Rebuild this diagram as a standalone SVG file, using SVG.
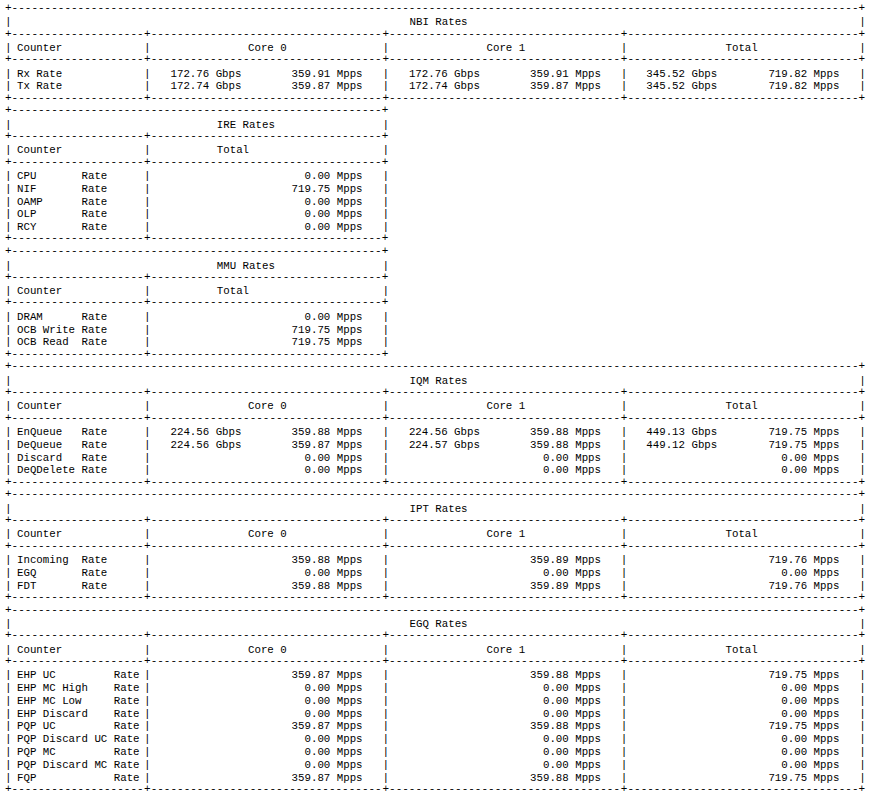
<svg xmlns="http://www.w3.org/2000/svg" width="874" height="801" viewBox="0 0 874 801">
<style>
text { font-family: "Liberation Mono", "DejaVu Sans Mono", monospace; font-size: 10.75px; fill: #000; white-space: pre; }
text.b { font-size: 11px; }
.r { text-anchor: end; }
</style>
<defs>
<text id="wtop" class="b"><tspan x="5">+--------------------</tspan><tspan x="144.06">------------------------------------</tspan><tspan x="382.45">------------------------------------</tspan><tspan x="620.85">------------------------------------+</tspan></text>
<text id="wsep" class="b"><tspan x="5">+--------------------</tspan><tspan x="144.06">+-----------------------------------</tspan><tspan x="382.45">+-----------------------------------</tspan><tspan x="620.85">+-----------------------------------+</tspan></text>
<text id="stop" class="b"><tspan x="5">+--------------------</tspan><tspan x="144.06">------------------------------------+</tspan></text>
<text id="ssep" class="b"><tspan x="5">+--------------------</tspan><tspan x="144.06">+-----------------------------------+</tspan></text>
<text id="wbar" class="b"><tspan x="5">|</tspan><tspan x="144.06">|</tspan><tspan x="382.45">|</tspan><tspan x="620.85">|</tspan><tspan x="859.24">|</tspan></text>
<text id="wtbar" class="b"><tspan x="5">|</tspan><tspan x="859.24">|</tspan></text>
<text id="sbar" class="b"><tspan x="5">|</tspan><tspan x="144.06">|</tspan><tspan x="382.45">|</tspan></text>
<text id="stbar" class="b"><tspan x="5">|</tspan><tspan x="382.45">|</tspan></text>
</defs>
<rect width="874" height="801" fill="#fff"/>

<g id="nbi-rates">
<use href="#wtop" y="11"/>
<use href="#wtbar" y="25.3"/>
<text x="409.5" y="25.3">NBI Rates</text>
<use href="#wsep" y="36.6"/>
<use href="#wbar" y="50.9"/>
<text y="50.9"><tspan x="17">Counter</tspan><tspan x="248">Core 0</tspan><tspan x="486.5">Core 1</tspan><tspan x="725.5">Total</tspan></text>
<use href="#wsep" y="62.2"/>
<use href="#wbar" y="76.5"/>
<text y="76.5"><tspan x="17">Rx Rate</tspan><tspan x="170.5">172.76 Gbps</tspan><tspan x="408.9">172.76 Gbps</tspan><tspan x="646.3">345.52 Gbps</tspan></text>
<text class="r" x="362.59" y="76.5">359.91 Mpps</text><text class="r" x="601" y="76.5">359.91 Mpps</text><text class="r" x="839.37" y="76.5">719.82 Mpps</text>
<use href="#wbar" y="89.3"/>
<text y="89.3"><tspan x="17">Tx Rate</tspan><tspan x="170.5">172.74 Gbps</tspan><tspan x="408.9">172.74 Gbps</tspan><tspan x="646.3">345.52 Gbps</tspan></text>
<text class="r" x="362.59" y="89.3">359.87 Mpps</text><text class="r" x="601" y="89.3">359.87 Mpps</text><text class="r" x="839.37" y="89.3">719.82 Mpps</text>
<use href="#wsep" y="100.6"/>
</g>

<g id="ire-rates">
<use href="#stop" y="113.4"/>
<use href="#stbar" y="127.7"/>
<text x="216.8" y="127.7">IRE Rates</text>
<use href="#ssep" y="139"/>
<use href="#sbar" y="153.3"/>
<text y="153.3"><tspan x="17">Counter</tspan><tspan x="216.8">Total</tspan></text>
<use href="#ssep" y="164.6"/>
<use href="#sbar" y="178.9"/>
<text y="178.9"><tspan x="17">CPU</tspan><tspan x="81.5">Rate</tspan></text><text class="r" x="362.59" y="178.9">0.00 Mpps</text>
<use href="#sbar" y="191.7"/>
<text y="191.7"><tspan x="17">NIF</tspan><tspan x="81.5">Rate</tspan></text><text class="r" x="362.59" y="191.7">719.75 Mpps</text>
<use href="#sbar" y="204.5"/>
<text y="204.5"><tspan x="17">OAMP</tspan><tspan x="81.5">Rate</tspan></text><text class="r" x="362.59" y="204.5">0.00 Mpps</text>
<use href="#sbar" y="217.3"/>
<text y="217.3"><tspan x="17">OLP</tspan><tspan x="81.5">Rate</tspan></text><text class="r" x="362.59" y="217.3">0.00 Mpps</text>
<use href="#sbar" y="230.1"/>
<text y="230.1"><tspan x="17">RCY</tspan><tspan x="81.5">Rate</tspan></text><text class="r" x="362.59" y="230.1">0.00 Mpps</text>
<use href="#ssep" y="241.4"/>
</g>

<g id="mmu-rates">
<use href="#stop" y="254.2"/>
<use href="#stbar" y="268.5"/>
<text x="216.8" y="268.5">MMU Rates</text>
<use href="#ssep" y="279.8"/>
<use href="#sbar" y="294.1"/>
<text y="294.1"><tspan x="17">Counter</tspan><tspan x="216.8">Total</tspan></text>
<use href="#ssep" y="305.4"/>
<use href="#sbar" y="319.7"/>
<text y="319.7"><tspan x="17">DRAM</tspan><tspan x="81.5">Rate</tspan></text><text class="r" x="362.59" y="319.7">0.00 Mpps</text>
<use href="#sbar" y="332.5"/>
<text y="332.5"><tspan x="17">OCB Write</tspan><tspan x="81.5">Rate</tspan></text><text class="r" x="362.59" y="332.5">719.75 Mpps</text>
<use href="#sbar" y="345.3"/>
<text y="345.3"><tspan x="17">OCB Read</tspan><tspan x="81.5">Rate</tspan></text><text class="r" x="362.59" y="345.3">719.75 Mpps</text>
<use href="#ssep" y="356.6"/>
</g>

<g id="iqm-rates">
<use href="#wtop" y="369.4"/>
<use href="#wtbar" y="383.7"/>
<text x="409.5" y="383.7">IQM Rates</text>
<use href="#wsep" y="395"/>
<use href="#wbar" y="409.3"/>
<text y="409.3"><tspan x="17">Counter</tspan><tspan x="248">Core 0</tspan><tspan x="486.5">Core 1</tspan><tspan x="725.5">Total</tspan></text>
<use href="#wsep" y="420.6"/>
<use href="#wbar" y="434.9"/>
<text y="434.9"><tspan x="17">EnQueue</tspan><tspan x="81.5">Rate</tspan><tspan x="170.5">224.56 Gbps</tspan><tspan x="408.9">224.56 Gbps</tspan><tspan x="646.3">449.13 Gbps</tspan></text>
<text class="r" x="362.59" y="434.9">359.88 Mpps</text><text class="r" x="601" y="434.9">359.88 Mpps</text><text class="r" x="839.37" y="434.9">719.75 Mpps</text>
<use href="#wbar" y="447.7"/>
<text y="447.7"><tspan x="17">DeQueue</tspan><tspan x="81.5">Rate</tspan><tspan x="170.5">224.56 Gbps</tspan><tspan x="408.9">224.57 Gbps</tspan><tspan x="646.3">449.12 Gbps</tspan></text>
<text class="r" x="362.59" y="447.7">359.87 Mpps</text><text class="r" x="601" y="447.7">359.88 Mpps</text><text class="r" x="839.37" y="447.7">719.75 Mpps</text>
<use href="#wbar" y="460.5"/>
<text y="460.5"><tspan x="17">Discard</tspan><tspan x="81.5">Rate</tspan></text>
<text class="r" x="362.59" y="460.5">0.00 Mpps</text><text class="r" x="601" y="460.5">0.00 Mpps</text><text class="r" x="839.37" y="460.5">0.00 Mpps</text>
<use href="#wbar" y="473.3"/>
<text y="473.3"><tspan x="17">DeQDelete</tspan><tspan x="81.5">Rate</tspan></text>
<text class="r" x="362.59" y="473.3">0.00 Mpps</text><text class="r" x="601" y="473.3">0.00 Mpps</text><text class="r" x="839.37" y="473.3">0.00 Mpps</text>
<use href="#wsep" y="484.6"/>
</g>

<g id="ipt-rates">
<use href="#wtop" y="497.4"/>
<use href="#wtbar" y="511.7"/>
<text x="409.5" y="511.7">IPT Rates</text>
<use href="#wsep" y="523"/>
<use href="#wbar" y="537.3"/>
<text y="537.3"><tspan x="17">Counter</tspan><tspan x="248">Core 0</tspan><tspan x="486.5">Core 1</tspan><tspan x="725.5">Total</tspan></text>
<use href="#wsep" y="548.6"/>
<use href="#wbar" y="562.9"/>
<text y="562.9"><tspan x="17">Incoming</tspan><tspan x="81.5">Rate</tspan></text>
<text class="r" x="362.59" y="562.9">359.88 Mpps</text><text class="r" x="601" y="562.9">359.89 Mpps</text><text class="r" x="839.37" y="562.9">719.76 Mpps</text>
<use href="#wbar" y="575.7"/>
<text y="575.7"><tspan x="17">EGQ</tspan><tspan x="81.5">Rate</tspan></text>
<text class="r" x="362.59" y="575.7">0.00 Mpps</text><text class="r" x="601" y="575.7">0.00 Mpps</text><text class="r" x="839.37" y="575.7">0.00 Mpps</text>
<use href="#wbar" y="588.5"/>
<text y="588.5"><tspan x="17">FDT</tspan><tspan x="81.5">Rate</tspan></text>
<text class="r" x="362.59" y="588.5">359.88 Mpps</text><text class="r" x="601" y="588.5">359.89 Mpps</text><text class="r" x="839.37" y="588.5">719.76 Mpps</text>
<use href="#wsep" y="599.8"/>
</g>

<g id="egq-rates">
<use href="#wtop" y="612.6"/>
<use href="#wtbar" y="626.9"/>
<text x="409.5" y="626.9">EGQ Rates</text>
<use href="#wsep" y="638.2"/>
<use href="#wbar" y="652.5"/>
<text y="652.5"><tspan x="17">Counter</tspan><tspan x="248">Core 0</tspan><tspan x="486.5">Core 1</tspan><tspan x="725.5">Total</tspan></text>
<use href="#wsep" y="663.8"/>
<use href="#wbar" y="678.1"/>
<text y="678.1"><tspan x="17">EHP UC</tspan><tspan x="113.75">Rate</tspan></text>
<text class="r" x="362.59" y="678.1">359.87 Mpps</text><text class="r" x="601" y="678.1">359.88 Mpps</text><text class="r" x="839.37" y="678.1">719.75 Mpps</text>
<use href="#wbar" y="690.9"/>
<text y="690.9"><tspan x="17">EHP MC High</tspan><tspan x="113.75">Rate</tspan></text>
<text class="r" x="362.59" y="690.9">0.00 Mpps</text><text class="r" x="601" y="690.9">0.00 Mpps</text><text class="r" x="839.37" y="690.9">0.00 Mpps</text>
<use href="#wbar" y="703.7"/>
<text y="703.7"><tspan x="17">EHP MC Low</tspan><tspan x="113.75">Rate</tspan></text>
<text class="r" x="362.59" y="703.7">0.00 Mpps</text><text class="r" x="601" y="703.7">0.00 Mpps</text><text class="r" x="839.37" y="703.7">0.00 Mpps</text>
<use href="#wbar" y="716.5"/>
<text y="716.5"><tspan x="17">EHP Discard</tspan><tspan x="113.75">Rate</tspan></text>
<text class="r" x="362.59" y="716.5">0.00 Mpps</text><text class="r" x="601" y="716.5">0.00 Mpps</text><text class="r" x="839.37" y="716.5">0.00 Mpps</text>
<use href="#wbar" y="729.3"/>
<text y="729.3"><tspan x="17">PQP UC</tspan><tspan x="113.75">Rate</tspan></text>
<text class="r" x="362.59" y="729.3">359.87 Mpps</text><text class="r" x="601" y="729.3">359.88 Mpps</text><text class="r" x="839.37" y="729.3">719.75 Mpps</text>
<use href="#wbar" y="742.1"/>
<text y="742.1"><tspan x="17">PQP Discard UC</tspan><tspan x="113.75">Rate</tspan></text>
<text class="r" x="362.59" y="742.1">0.00 Mpps</text><text class="r" x="601" y="742.1">0.00 Mpps</text><text class="r" x="839.37" y="742.1">0.00 Mpps</text>
<use href="#wbar" y="754.9"/>
<text y="754.9"><tspan x="17">PQP MC</tspan><tspan x="113.75">Rate</tspan></text>
<text class="r" x="362.59" y="754.9">0.00 Mpps</text><text class="r" x="601" y="754.9">0.00 Mpps</text><text class="r" x="839.37" y="754.9">0.00 Mpps</text>
<use href="#wbar" y="767.7"/>
<text y="767.7"><tspan x="17">PQP Discard MC</tspan><tspan x="113.75">Rate</tspan></text>
<text class="r" x="362.59" y="767.7">0.00 Mpps</text><text class="r" x="601" y="767.7">0.00 Mpps</text><text class="r" x="839.37" y="767.7">0.00 Mpps</text>
<use href="#wbar" y="780.5"/>
<text y="780.5"><tspan x="17">FQP</tspan><tspan x="113.75">Rate</tspan></text>
<text class="r" x="362.59" y="780.5">359.87 Mpps</text><text class="r" x="601" y="780.5">359.88 Mpps</text><text class="r" x="839.37" y="780.5">719.75 Mpps</text>
<use href="#wsep" y="791.8"/>
</g>
</svg>
